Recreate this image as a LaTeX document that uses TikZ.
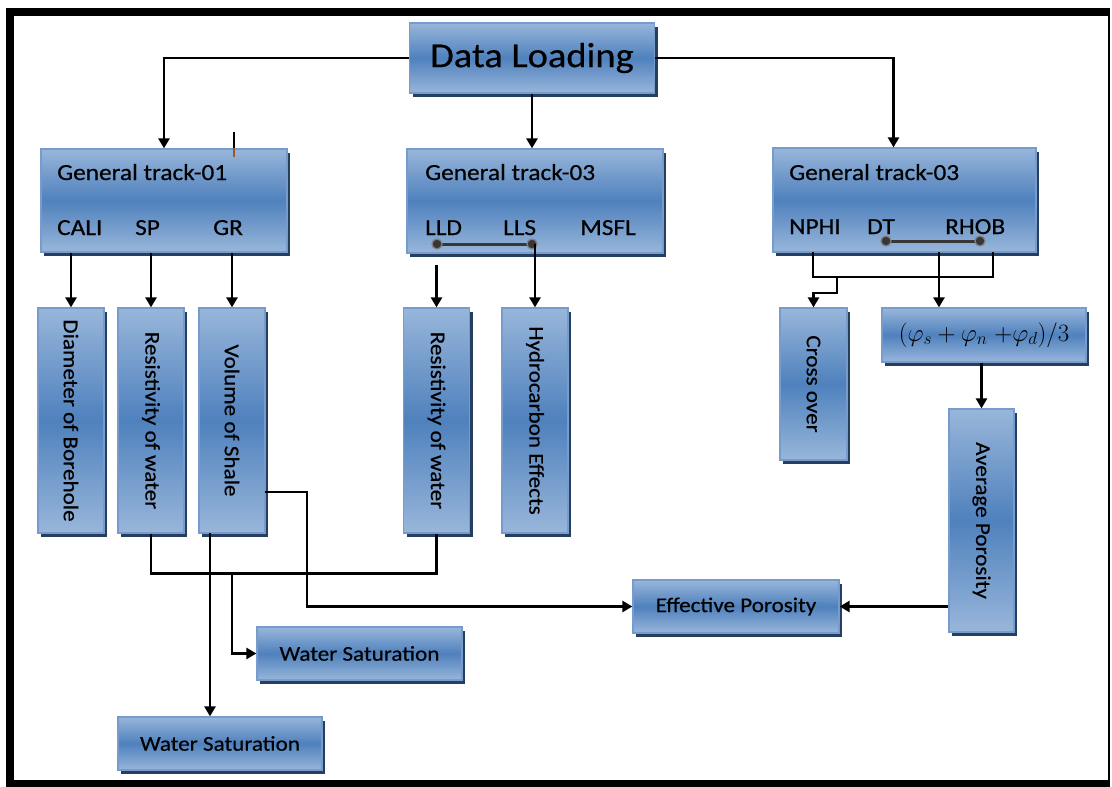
\documentclass[tikz,border=0pt]{standalone}
\usepackage{fontspec}
\setmainfont{Carlito}[FakeStretch=1.1, FakeBold=0.4]
\usepackage{tikz}
\usetikzlibrary{arrows.meta, positioning, shadows, calc}
\definecolor{boxlight}{RGB}{152,182,218}
\definecolor{boxmid}{RGB}{79,129,189}
\definecolor{boxedge}{RGB}{120,155,205}
\definecolor{boxshade}{RGB}{38,62,96}
\definecolor{pindark}{RGB}{55,55,55}
\definecolor{tickbrown}{RGB}{150,90,40}

\begin{document}
\begin{tikzpicture}[x=1pt, y=-1pt,
  box/.style={draw=boxedge, line width=1.2pt, top color=boxlight, bottom color=boxlight, middle color=boxmid,
    drop shadow={shadow xshift=3pt, shadow yshift=-3.5pt, fill=boxshade, opacity=1},
    inner sep=0pt, font=\fontsize{21}{24}\selectfont},
  tall/.style={box, minimum width=66pt, minimum height=225pt},
  wide/.style={box, minimum width=205pt, minimum height=53pt},
  lbl/.style={anchor=base west, inner sep=0pt, font=\fontsize{23}{26}\selectfont},
  probe/.style={circle, fill=pindark, draw=gray, line width=1.2pt, inner sep=0pt, minimum size=10pt},
  link/.style={line width=2.6pt, -{Triangle[length=10pt, width=11pt]}},
  wire/.style={line width=2.6pt}]
  \useasboundingbox (0,0) rectangle (1112,787);

  % outer frame
  \draw[line width=8pt] (1109,12) -- (10,12) -- (10,787);
  \draw[line width=7pt] (6,783.5) -- (1110,783.5);
  \draw[line width=2pt] (1109,8) -- (1109,787);

  % top and the three tracks
  \node[box, minimum width=245pt, minimum height=70pt, font=\fontsize{35}{40}\selectfont] (load) at (532,58) {Data Loading};
  \node[box, minimum width=246pt, minimum height=103pt] (trackA) at (164,200.5) {};
  \node[box, minimum width=256pt, minimum height=104pt] (trackB) at (535,201) {};
  \node[box, minimum width=263pt, minimum height=104pt] (trackC) at (904.5,200) {};

  \node[lbl] (titleA) at (57,180) {General track-01};
  \node[lbl] (cali) at (57,235) {CALI};
  \node[lbl] (sp) at (135,235) {SP};
  \node[lbl] (gr) at (213,235) {GR};

  \node[lbl] (titleB) at (425,180) {General track-03};
  \node[lbl] (lld) at (425,235) {LLD};
  \node[lbl] (lls) at (503,235) {LLS};
  \node[lbl] (msfl) at (580,235) {MSFL};

  \node[lbl] (titleC) at (789,180) {General track-03};
  \node[lbl] (nphi) at (789,234) {NPHI};
  \node[lbl] (dt) at (867,234) {DT};
  \node[lbl] (rhob) at (945,234) {RHOB};

  % linked curves
  \draw[line width=3pt, pindark] (437,244) -- (532,244);
  \draw[line width=3pt, pindark] (886,241) -- (980,241);
  \node[probe] (lldpin) at (437,244) {};
  \node[probe] (llspin) at (532,244) {};
  \node[probe] (dtpin) at (886,241) {};
  \node[probe] (rhobpin) at (980,241) {};

  % derived logs
  \node[tall] (diam) at (71,420.5) {\rotatebox{-90}{Diameter of Borehole}};
  \node[tall] (resA) at (151,420.5) {\rotatebox{-90}{Resistivity of water}};
  \node[tall] (shale) at (232,420.5) {\rotatebox{-90}{Volume of Shale}};
  \node[tall] (resB) at (436.5,420.5) {\rotatebox{-90}{Resistivity of water}};
  \node[tall] (hydro) at (535,420.5) {\rotatebox{-90}{Hydrocarbon Effects}};
  \node[tall, minimum width=67pt, minimum height=152pt] (cross) at (813.5,384) {\rotatebox{-90}{Cross over}};
  \node[wide, minimum width=204pt, minimum height=54pt, font=\fontsize{26}{30}\selectfont] (formula) at (984,335) {$(\varphi_s + \varphi_n \;{+}\varphi_d)/3$};
  \node[tall, minimum width=65pt, minimum height=223pt] (avg) at (981.5,520.5) {\rotatebox{-90}{Average Porosity}};
  \node[wide, minimum width=206pt] (eff) at (736,606.5) {Effective Porosity};
  \node[wide] (satA) at (359.5,653.5) {Water Saturation};
  \node[wide, minimum width=204pt] (satB) at (220,743.5) {Water Saturation};

  % stray tick above track 01
  \coordinate (tick) at (234,132);
  \draw[line width=2.4pt] (tick) -- ++(0,16);
  \draw[line width=2.4pt, tickbrown] (tick) ++(0,16) -- ++(0,9);

  % data loading to tracks
  \draw[link] (load.west) -| (trackA.north);
  \draw[link] (load.south) -- (load.south |- trackB.north);
  \draw[link] (load.east) -| ([xshift=-11pt]trackC.north);

  % track 01
  \draw[link] (diam.north |- trackA.south) -- (diam.north);
  \draw[link] (resA.north |- trackA.south) -- (resA.north);
  \draw[link] (shale.north |- trackA.south) -- (shale.north);

  % track 03 (resistivity)
  \coordinate (lldout) at (436.5,265);
  \draw[link] (lldout) -- (resB.north);
  \draw[link] (hydro.north |- llspin) -- (hydro.north);

  % track 03 (porosity)
  \coordinate (nphiout) at (813,252);
  \coordinate (rhobout) at (993,252);
  \coordinate (fork) at (837,277);
  \coordinate (dtout) at (939,252);
  \draw[wire] (nphiout) -- ++(0,25) -| (rhobout);
  \draw[link] (fork) -- ++(0,16) -| (cross.north);
  \draw[link] (dtout) -- (dtout |- formula.north);
  \draw[link] (avg.north |- formula.south) -- (avg.north);
  \draw[link] (avg.west |- eff.east) -- (eff.east);

  % shale and water paths
  \coordinate (shaleout) at (265,492);
  \draw[link] (shaleout) -- ++(42,0) |- (eff.west);
  \draw[wire] (resA.south) -- ++(0,40) -| (resB.south);
  \coordinate (satjoin) at (232,573);
  \draw[link] (satjoin) |- (satA.west);
  \coordinate (shaledrop) at (210,533);
  \draw[link] (shaledrop) -- (shaledrop |- satB.north);
\end{tikzpicture}
\end{document}
